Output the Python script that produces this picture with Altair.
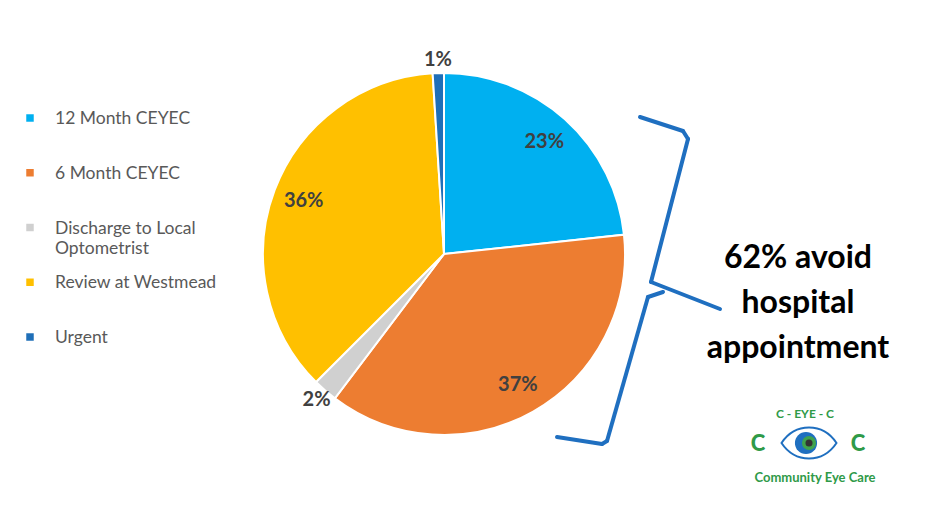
import altair as alt
import pandas as pd

# ---- data ----
categories = ["12 Month CEYEC", "6 Month CEYEC", "Discharge to Local Optometrist",
              "Review at Westmead", "Urgent"]
legend_text = ["12 Month CEYEC", "6 Month CEYEC", "Discharge to Local\nOptometrist",
               "Review at Westmead", "Urgent"]
values = [23.3, 37.0, 2.2, 36.5, 1.0]
labels = ["23%", "37%", "2%", "36%", "1%"]
colors = ["#00B0F0", "#ED7D31", "#D0D0D0", "#FFC000", "#1F6FB8"]

annotation_lines = ["62% avoid", "hospital", "appointment"]
logo_top = "C - EYE - C"
logo_bottom = "Community Eye Care"

# ---- layout constants (chart coordinates; page = chart + 8) ----
CX, CY, R = 436, 246, 181
BLUE = "#1F6FC0"
GREEN = "#2F9A48"

pie_df = pd.DataFrame({"category": categories, "value": values,
                       "label": labels, "idx": list(range(len(categories)))})
legend_df = pd.DataFrame({"category": categories, "text": legend_text})
one = pd.DataFrame({"k": [0]})

color_scale = alt.Scale(domain=categories, range=colors)

base = alt.Chart(pie_df).encode(
    theta=alt.Theta("value:Q", stack=True),
    order=alt.Order("idx:Q"),
    x=alt.value(CX), y=alt.value(CY),
)
arcs = base.mark_arc(outerRadius=R, stroke="white", strokeWidth=2).encode(
    color=alt.Color("category:N", scale=color_scale, legend=None)
)
txt_style = dict(font="Lato", fontWeight="bold", fontSize=20, color="#404040")
pie_text_in = base.transform_calculate(
    t="datum.value > 5 ? datum.label : ''"
).mark_text(radius=150, **txt_style).encode(text="t:N", detail="category:N")
pie_text_out = base.transform_calculate(
    t="datum.value > 5 ? '' : datum.label"
).mark_text(radius=194, **txt_style).encode(text="t:N", detail="category:N")

ly = alt.Y("category:N", scale=alt.Scale(type="point", domain=categories,
                                          range=[110, 329], padding=0), axis=None)
leg_sq = alt.Chart(legend_df).mark_square(size=56, opacity=1).encode(
    x=alt.value(22), y=ly,
    color=alt.Color("category:N", scale=color_scale, legend=None),
)
leg_txt = alt.Chart(legend_df).mark_text(
    font="Lato", fontSize=17.5, color="#595959", align="left", baseline="top",
    dy=-8, lineBreak="\n", lineHeight=20
).encode(x=alt.value(47), y=ly, text="text:N")

# curly brace (decoration) as rule segments
brace_pts = [
    ((632, 109), (675, 123)), ((675, 123), (680, 131)), ((680, 131), (643, 274)),
    ((643, 274), (712, 301)), ((655, 284), (640, 289)), ((640, 289), (599, 433)),
    ((599, 433), (594, 436)), ((594, 436), (549, 429)),
]
brace = [
    alt.Chart(one).mark_rule(color=BLUE, strokeWidth=4, strokeCap="round").encode(
        x=alt.value(a[0]), y=alt.value(a[1]), x2=alt.value(b[0]), y2=alt.value(b[1]))
    for a, b in brace_pts
]

ann = [
    alt.Chart(one).mark_text(text=t, font="Lato", fontWeight="bold", fontSize=32,
                             color="#000000", align="center", baseline="middle").encode(
        x=alt.value(790), y=alt.value(250 + 45 * i))
    for i, t in enumerate(annotation_lines)
]

# logo
logo = [
    alt.Chart(one).mark_text(text=logo_top, font="Lato", fontWeight="bold", fontSize=12,
                             color=GREEN).encode(x=alt.value(797), y=alt.value(406)),
    alt.Chart(one).mark_text(text="C", font="Lato", fontWeight=900, fontSize=22,
                             color=GREEN).encode(x=alt.value(750), y=alt.value(436)),
    alt.Chart(one).mark_text(text="C", font="Lato", fontWeight=900, fontSize=22,
                             color=GREEN).encode(x=alt.value(850), y=alt.value(436)),
    alt.Chart(one).mark_point(
        shape="M-1,0 C-0.5,-0.75 0.5,-0.75 1,0 C0.5,0.75 -0.5,0.75 -1,0 Z",
        filled=False, stroke=BLUE, strokeWidth=2, size=3025, opacity=1
    ).encode(x=alt.value(801), y=alt.value(435)),
    alt.Chart(one).mark_circle(size=491, color=BLUE, opacity=1).encode(
        x=alt.value(798), y=alt.value(435)),
    alt.Chart(one).mark_circle(size=200, color="#3FA34D", opacity=1).encode(
        x=alt.value(801), y=alt.value(435)),
    alt.Chart(one).mark_circle(size=50, color="#333333", opacity=1).encode(
        x=alt.value(801), y=alt.value(435)),
    alt.Chart(one).mark_text(text=logo_bottom, font="Lato", fontWeight="bold", fontSize=13,
                             color=GREEN).encode(x=alt.value(807), y=alt.value(470)),
]

chart = alt.layer(arcs, pie_text_in, pie_text_out, leg_sq, leg_txt, *brace, *ann, *logo).properties(
    width=923, height=509, autosize=alt.AutoSizeParams(type="none"), padding=0
).configure_view(stroke=None)

chart.save("out.html", embed_options={"renderer": "svg", "actions": False})
